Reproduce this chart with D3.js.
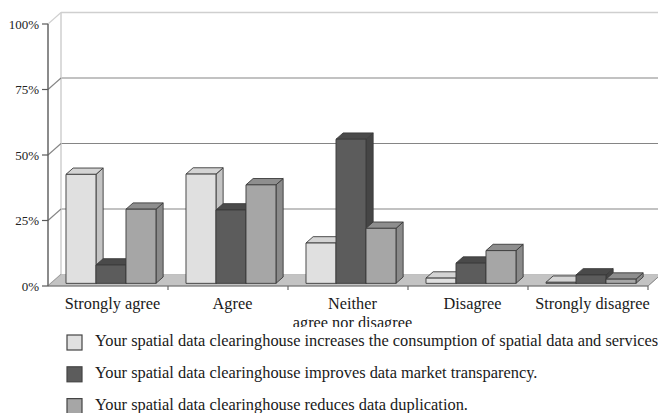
<!DOCTYPE html>
<html><head><meta charset="utf-8">
<script src="https://cdn.jsdelivr.net/npm/d3@7/dist/d3.min.js"></script>
<style>html,body{margin:0;padding:0;background:#fff;}svg{display:block;font-family:"Liberation Serif","Times New Roman",serif;}</style>
</head><body>
<svg id="chart" width="658" height="413"></svg>
<script>
const categories = ["Strongly agree", "Agree", "Neither|agree nor disagree", "Disagree", "Strongly disagree"];
const seriesNames = [
  "Your spatial data clearinghouse increases the consumption of spatial data and services",
  "Your spatial data clearinghouse improves data market transparency.",
  "Your spatial data clearinghouse reduces data duplication."
];
const consumption = [41.6, 41.7, 15.4, 2, 0.4];
const transparency = [7, 28, 55, 7.7, 3.2];
const duplication = [28.3, 37.6, 21, 12.5, 1.6];
const yTicks = [0, 25, 50, 75, 100];
const tickLabels = ["0%", "25%", "50%", "75%", "100%"];

const seriesValues = [consumption, transparency, duplication];
const fronts = ["#e0e0e0", "#5c5c5c", "#a6a6a6"];
const tops = ["#d4d4d4", "#4a4a4a", "#8e8e8e"];
const sides = ["#c4c4c4", "#454545", "#8a8a8a"];

const svg = d3.select("#chart");
const DX = 13, DY = -11.5;
const F1 = 0.23, F2 = 0.78;
const x = d3.scaleBand().domain(categories).range([48, 648]);
const xs = d3.scaleBand().domain(d3.range(3)).range([15, 105]);
const y = d3.scaleLinear().domain([0, 100]).range([286, 24]);
const P = (px, v, f) => [px + f * DX, y(v) + f * DY];
const poly = pts => pts.map(p => p.join(",")).join(" ");

const bw = svg.append("g");
bw.append("rect").attr("x", 48 + DX).attr("y", y(100) + DY)
  .attr("width", 600).attr("height", y(0) - y(100)).attr("fill", "#fff");
yTicks.slice(1, 4).forEach(t => {
  bw.append("line").attr("x1", 48 + DX).attr("x2", 648 + DX + 10)
    .attr("y1", y(t) + DY).attr("y2", y(t) + DY).attr("stroke", "#858585").attr("stroke-width", 1.2);
});
bw.append("line").attr("x1", 48 + DX).attr("x2", 670).attr("y1", y(100) + DY).attr("y2", y(100) + DY)
  .attr("stroke", "#cfcfcf").attr("stroke-width", 1.5);
bw.append("line").attr("x1", 48 + DX).attr("x2", 48 + DX).attr("y1", y(100) + DY).attr("y2", y(0) + DY)
  .attr("stroke", "#cfcfcf").attr("stroke-width", 1.5);
yTicks.forEach(t => {
  bw.append("line").attr("x1", 48).attr("y1", y(t)).attr("x2", 48 + DX).attr("y2", y(t) + DY)
    .attr("stroke", t === 100 ? "#cfcfcf" : "#858585").attr("stroke-width", 1.1);
});

svg.append("polygon")
  .attr("points", poly([P(48, 0, 0), P(648, 0, 0), P(648, 0, 1), P(48, 0, 1)]))
  .attr("fill", "#c3c3c3").attr("stroke", "#aaa").attr("stroke-width", 0.6);

const bars = svg.append("g");
categories.forEach((c, ci) => {
  seriesValues.forEach((vals, si) => {
    const v = vals[ci];
    const x0 = x(c) + xs(si), x1 = x0 + xs.bandwidth();
    const g = bars.append("g").attr("stroke", "#3a3a3a").attr("stroke-width", 0.9).attr("stroke-linejoin", "round");
    g.append("polygon").attr("points", poly([P(x1, 0, F1), P(x1, 0, F2), P(x1, v, F2), P(x1, v, F1)]))
      .attr("fill", sides[si]);
    g.append("polygon").attr("points", poly([P(x0, v, F1), P(x1, v, F1), P(x1, v, F2), P(x0, v, F2)]))
      .attr("fill", tops[si]);
    g.append("polygon").attr("points", poly([P(x0, 0, F1), P(x1, 0, F1), P(x1, v, F1), P(x0, v, F1)]))
      .attr("fill", fronts[si]);
  });
});

svg.append("line").attr("x1", 48).attr("x2", 48).attr("y1", y(100)).attr("y2", y(0))
  .attr("stroke", "#5a5a5a").attr("stroke-width", 1.4);
svg.append("line").attr("x1", 48).attr("x2", 648).attr("y1", y(0)).attr("y2", y(0))
  .attr("stroke", "#6a6a6a").attr("stroke-width", 1.2);
svg.append("line").attr("x1", 648).attr("y1", y(0)).attr("x2", 648 + DX).attr("y2", y(0) + DY)
  .attr("stroke", "#8a8a8a").attr("stroke-width", 1);
yTicks.forEach((t, i) => {
  svg.append("line").attr("x1", 42).attr("x2", 48).attr("y1", y(t)).attr("y2", y(t))
    .attr("stroke", "#5a5a5a").attr("stroke-width", 1.2);
  svg.append("text").attr("x", 39).attr("y", y(t)).attr("dy", "0.35em")
    .attr("text-anchor", "end").attr("font-size", 13).attr("fill", "#222").text(tickLabels[i]);
});
categories.forEach((c, i) => {
  if (i === 0) return;
  svg.append("line").attr("x1", x(c)).attr("x2", x(c)).attr("y1", y(0)).attr("y2", y(0) + 4)
    .attr("stroke", "#6a6a6a").attr("stroke-width", 1.2);
});
svg.append("line").attr("x1", 648).attr("x2", 648).attr("y1", y(0)).attr("y2", y(0) + 4)
  .attr("stroke", "#6a6a6a").attr("stroke-width", 1.2);

svg.append("defs").append("clipPath").attr("id", "lblclip")
  .append("rect").attr("x", 0).attr("y", 0).attr("width", 658).attr("height", 327);
const lbl = svg.append("g").attr("clip-path", "url(#lblclip)");
categories.forEach(c => {
  const cx = x(c) + x.bandwidth() / 2 + DX * F1 + 1.5;
  const t = lbl.append("text").attr("x", cx).attr("y", 309).attr("text-anchor", "middle")
    .attr("font-size", 16.3).attr("fill", "#1a1a1a");
  c.split("|").forEach((ln, k) => {
    t.append("tspan").attr("x", cx).attr("dy", k === 0 ? 0 : 18.5).text(ln);
  });
});

const leg = svg.append("g");
seriesNames.forEach((n, i) => {
  const yy = 335 + i * 31.8;
  leg.append("rect").attr("x", 67).attr("y", yy).attr("width", 15).attr("height", 15)
    .attr("fill", fronts[i]).attr("stroke", "#444").attr("stroke-width", 1.2);
  leg.append("text").attr("x", 95).attr("y", yy + 11).attr("font-size", 16.4).attr("fill", "#1a1a1a").text(n);
});
</script>
</body></html>
